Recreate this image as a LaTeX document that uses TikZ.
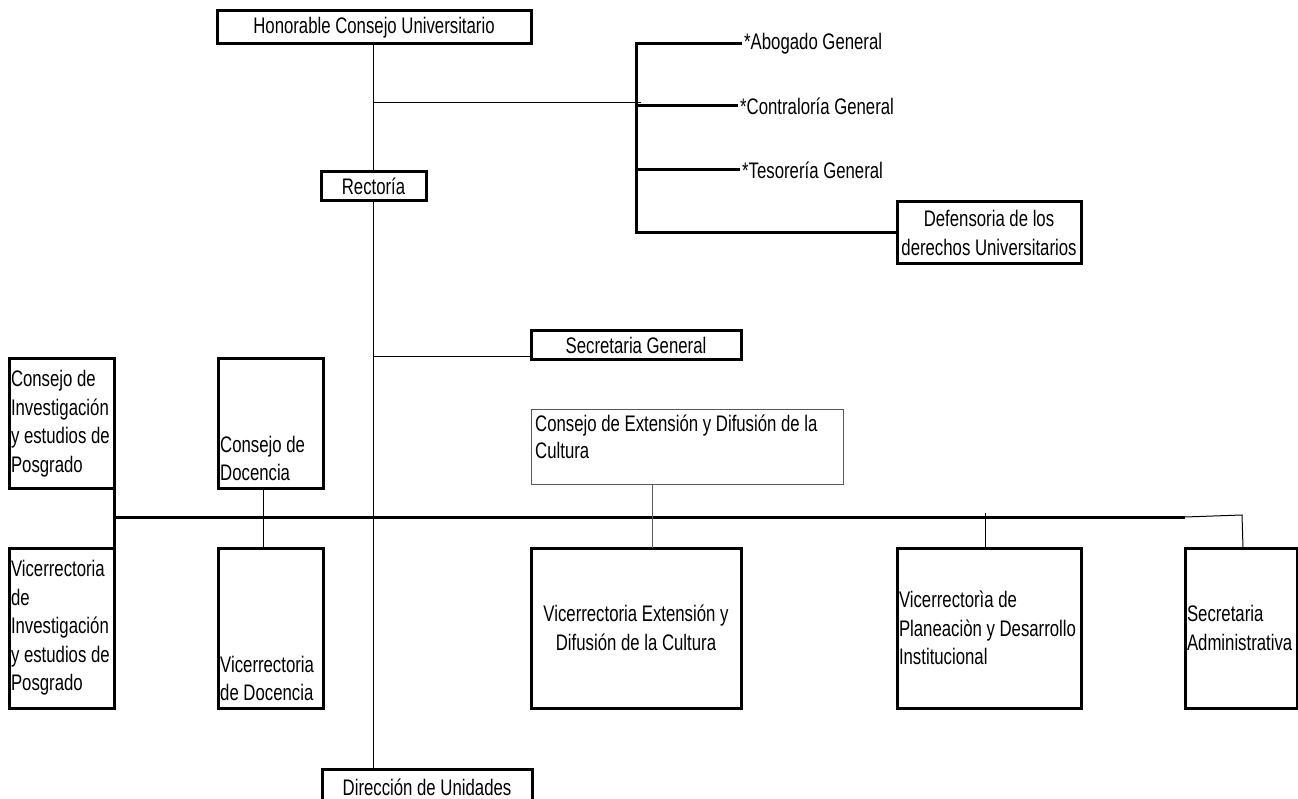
\documentclass[tikz,border=0pt]{standalone}
\usepackage{fontspec}
\setmainfont{Liberation Sans}[FakeStretch=0.745]
\begin{document}
\begin{tikzpicture}[x=1pt,y=-1pt,
  every node/.style={font=\fontsize{22.5}{28.5}\selectfont},
  box/.style={draw, line width=3pt, inner sep=0pt, outer sep=0pt, anchor=north west},
  thinbox/.style={draw=black!65, line width=1pt, inner sep=0pt, outer sep=0pt, anchor=north west},
  conn/.style={line width=1pt},
  bold/.style={line width=3pt},
  txt/.style={inner sep=2pt}]
\useasboundingbox[fill=white] (0,0) rectangle (1298,799);

% boxes
\node[box, minimum width=314, minimum height=33] (hcu) at (217,11) {Honorable Consejo Universitario};
\node[box, minimum width=105, minimum height=29] (rect) at (321,172) {Rectoría};
\node[box, minimum width=184, minimum height=62, align=center] (def) at (897,202) {Defensoria de los\\derechos Universitarios};
\node[box, minimum width=210, minimum height=29] (sg) at (531,331) {Secretaria General};
\node[box, minimum width=105, minimum height=129, text width=101, align=flush left] (ci) at (9,359) {Consejo de\\Investigación\\y estudios de\\Posgrado};
\node[box, minimum width=105, minimum height=129] (cd) at (218,359) {};
\node[txt, anchor=south west, align=flush left] (cdt) at ([shift={(0,-5)}]cd.south west) {Consejo de\\Docencia};
\node[thinbox, minimum width=312, minimum height=75] (ce) at (531,409) {};
\node[txt, anchor=north west, align=flush left] (cet) at ([shift={(2,4)}]ce.north west) {Consejo de Extensión y Difusión de la\\[-2pt]Cultura};
\node[box, minimum width=105, minimum height=160, text width=101, align=flush left] (vi) at (9,548) {Vicerrectoria\\de\\Investigación\\y estudios de\\Posgrado};
\node[box, minimum width=105, minimum height=160] (vd) at (218,548) {};
\node[txt, anchor=south west, align=flush left] (vdt) at ([shift={(0,-5)}]vd.south west) {Vicerrectoria\\de Docencia};
\node[box, minimum width=210, minimum height=160, align=center] (ve) at (531,548) {Vicerrectoria Extensión y\\Difusión de la Cultura};
\node[box, minimum width=184, minimum height=160, text width=180, align=flush left] (vp) at (897,548) {Vicerrectorìa de\\Planeaciòn y Desarrollo\\Institucional};
\node[box, minimum width=112, minimum height=160, text width=108, align=flush left] (sa) at (1185,548) {Secretaria\\Administrativa};
\node[box, minimum width=210, minimum height=36] (dir) at (322,769) {Dirección de Unidades};

% side texts
\node[txt, anchor=west] (abog) at (742,44) {*Abogado General};
\node[txt, anchor=west] (cont) at (738,106) {*Contraloría General};
\node[txt, anchor=west] (teso) at (740,170) {*Tesorería General};

% spine
\coordinate (sp1) at (373,103);
\coordinate (sp2) at (373,357);
\coordinate (bj) at (641,103);
\draw[conn] (rect.north |- hcu.south) -- (rect.north);
\draw[conn] (rect.south) -- (rect.south |- dir.north);
\draw[conn] (sp1) -- (bj);
\draw[conn] (sp2) -- (sp2 -| sg.west);

% bracket
\coordinate (bt) at (636,44);
\coordinate (bc) at (636,106);
\coordinate (bs) at (636,170);
\draw[bold] (abog.west) -- (bt) -- (bt |- def.west) -- (def.west);
\draw[bold] (bc) -- (cont.west);
\draw[bold] (bs) -- (teso.west);

% lower bus
\coordinate (b0) at (114,517);
\coordinate (b1) at (1185,517);
\coordinate (b2) at (1242,515);
\coordinate (b3) at (985,513);
\draw[bold] (ci.south east) -- (vi.north east);
\draw[bold] (b0) -- (b1);
\draw[conn] (b1) -- (b2) -- ([xshift=2]sa.north);
\draw[conn] (b3) -- (b3 |- vp.north);
\draw[conn] ([xshift=-7]cd.south) -- ([xshift=-7]vd.north);
\draw[conn, draw=black!65] ([xshift=16]ve.north) -- ([xshift=16]ve.north |- ce.south);
\end{tikzpicture}
\end{document}
